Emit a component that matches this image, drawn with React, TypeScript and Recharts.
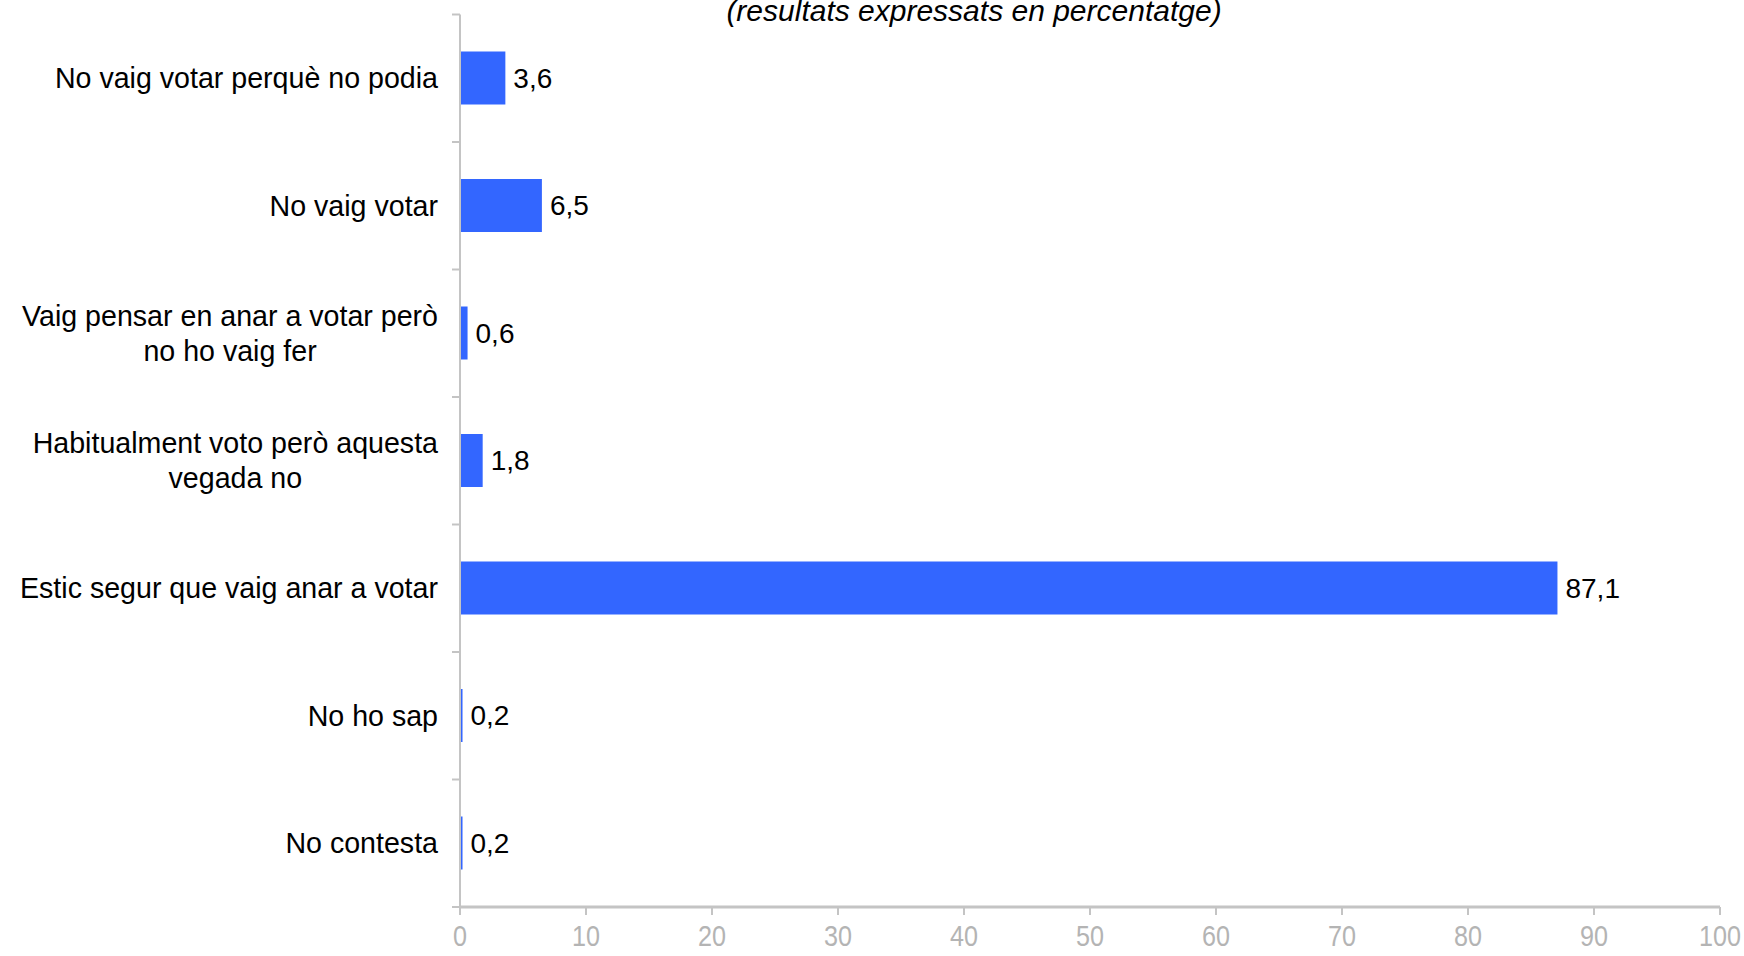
import React from 'react';
import { BarChart, Bar, XAxis, YAxis, LabelList } from 'recharts';

const categories = [
  'No vaig votar perquè no podia',
  'No vaig votar',
  'Vaig pensar en anar a votar però\nno ho vaig fer',
  'Habitualment voto però aquesta\nvegada no',
  'Estic segur que vaig anar a votar',
  'No ho sap',
  'No contesta',
];
const values = [3.6, 6.5, 0.6, 1.8, 87.1, 0.2, 0.2];
const xTicks = [0, 10, 20, 30, 40, 50, 60, 70, 80, 90, 100];

const W = 1744;
const H = 956;
const MARGIN = { top: 14.5, right: 24, bottom: 0, left: 0 };
const X_AXIS_H = 49;
const Y_AXIS_W = 460;
const GRID_GREY = '#c4c4c4';
const FONT = "'Liberation Sans', Arial, sans-serif";
const CAT_SIZE = 28.6;

const data = categories.map((name, i) => ({ name, value: values[i] }));
const band = (H - MARGIN.top - MARGIN.bottom - X_AXIS_H) / categories.length;

let ctx: CanvasRenderingContext2D | null = null;
const measure = (s: string) => {
  if (!ctx) ctx = document.createElement('canvas').getContext('2d');
  if (!ctx) return s.length * 14;
  ctx.font = `${CAT_SIZE}px ${FONT}`;
  return ctx.measureText(s).width;
};

const CategoryTick = (props: any) => {
  const { y, payload, index } = props;
  const lines: string[] = String(payload.value).split('\n');
  const right = Y_AXIS_W - 22;
  const lh = 35;
  const maxW = Math.max(...lines.map(measure));
  const multi = lines.length > 1;
  return (
    <g>
      <line x1={Y_AXIS_W - 8} x2={Y_AXIS_W} y1={y - band / 2} y2={y - band / 2} stroke={GRID_GREY} strokeWidth={2} />
      {index === categories.length - 1 && (
        <line x1={Y_AXIS_W - 8} x2={Y_AXIS_W} y1={y + band / 2} y2={y + band / 2} stroke={GRID_GREY} strokeWidth={2} />
      )}
      {lines.map((l, i) => (
        <text
          key={i}
          x={multi ? right - maxW / 2 : right}
          y={y - ((lines.length - 1) * lh) / 2 + i * lh + 10}
          textAnchor={multi ? 'middle' : 'end'}
          fontSize={CAT_SIZE}
          fontFamily={FONT}
          fill="#000"
        >
          {l}
        </text>
      ))}
    </g>
  );
};

const ValueTick = (props: any) => {
  const { x, y, payload } = props;
  const s = String(payload.value);
  return (
    <text
      x={x}
      y={y + 31}
      textAnchor="middle"
      fontSize={30}
      fontFamily="'Liberation Sans Narrow', 'Liberation Sans', Arial, sans-serif"
      fill="#b4b4b4"
      textLength={s.length * 14}
      lengthAdjust="spacingAndGlyphs"
    >
      {s}
    </text>
  );
};

export default function App() {
  return (
    <div style={{ position: 'absolute', left: 0, top: 0, width: W, height: H, background: '#fff' }}>
      <div
        style={{
          position: 'absolute',
          left: 0,
          width: 1948,
          top: -4,
          lineHeight: '30px',
          textAlign: 'center',
          fontFamily: FONT,
          fontStyle: 'italic',
          fontSize: 30,
          color: '#000',
          whiteSpace: 'nowrap',
        }}
      >
        (resultats expressats en percentatge)
      </div>
      <BarChart width={W} height={H} data={data} layout="vertical" margin={MARGIN}>
        <XAxis
          type="number"
          domain={[0, 100]}
          ticks={xTicks}
          interval={0}
          height={X_AXIS_H}
          tickSize={8}
          tickMargin={0}
          axisLine={{ stroke: GRID_GREY, strokeWidth: 3 }}
          tickLine={{ stroke: GRID_GREY, strokeWidth: 2 }}
          tick={<ValueTick />}
        />
        <YAxis
          type="category"
          dataKey="name"
          width={Y_AXIS_W}
          interval={0}
          tickLine={false}
          axisLine={{ stroke: GRID_GREY, strokeWidth: 2 }}
          tick={<CategoryTick />}
        />
        <Bar dataKey="value" fill="#3366ff" barSize={53} isAnimationActive={false}>
          <LabelList
            dataKey="value"
            position="right"
            offset={8}
            formatter={(v: any) => String(v).replace('.', ',')}
            style={{ fontSize: 28, fontFamily: FONT, fill: '#000' }}
          />
        </Bar>
      </BarChart>
    </div>
  );
}
